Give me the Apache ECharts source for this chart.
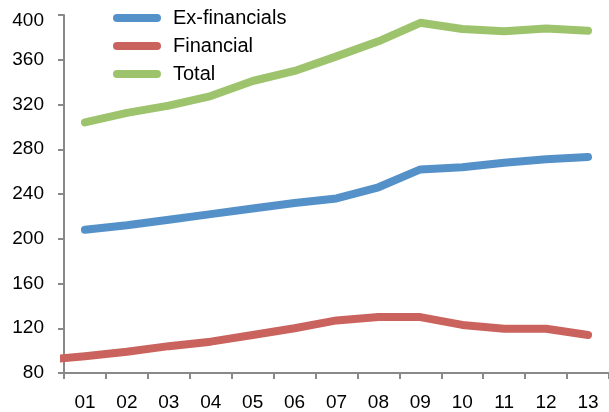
<!DOCTYPE html>
<html>
<head>
<meta charset="utf-8">
<script src="https://cdn.jsdelivr.net/npm/echarts@6/dist/echarts.min.js"></script>
<style>
  html, body { margin: 0; padding: 0; background: #fff; }
</style>
</head>
<body>
<div id="main" style="width: 609px;height:412px;"></div>
<script>
// years, shown as two digits
var categories = ["01", "02", "03", "04", "05", "06", "07", "08", "09", "10", "11", "12", "13"];
var exFinancials = [208, 212, 217, 222, 227, 232, 236, 246, 262, 264, 268, 271, 273];
var financial = [95, 99, 104, 108, 114, 120, 127, 130, 130, 123, 119.5, 119.5, 114];
// the Financial line comes in from a year before 01, cut at the axis
var financialBefore = 91.5;
var total = [304, 312.5, 319, 327.5, 341, 350, 363, 376.5, 393, 387.5, 385.5, 388, 386];
var yTicks = { min: 80, max: 400, step: 40 };

var grey = "#898989";
var font = "Liberation Sans, Arial, sans-serif";

function toPoints(values) {
  return values.map(function (v, i) { return [i + 1, v]; });
}

var boundaries = [];
for (var i = 0; i <= categories.length; i++) boundaries.push(i + 0.5);
var centers = categories.map(function (c, i) { return i + 1; });

var lineStyle = function (color) {
  return { width: 8, color: color, cap: "round", join: "round" };
};

var option = {
  animation: false,
  grid: { left: 64, right: -2, top: 15, bottom: 37 },
  legend: {
    orient: "vertical",
    left: 108,
    top: 3,
    itemWidth: 48,
    itemHeight: 8,
    itemGap: 8,
    icon: "path://M4,0 H44 A4,4 0 0 1 44,8 H4 A4,4 0 0 1 4,0 Z",
    textStyle: { fontFamily: font, fontSize: 20, color: "#000", lineHeight: 20, padding: [0, 0, 0, 7] },
    data: ["Ex-financials", "Financial", "Total"]
  },
  xAxis: {
    type: "value",
    min: 0.5,
    max: categories.length + 0.5,
    splitLine: { show: false },
    axisLine: { show: true, lineStyle: { color: grey, width: 2 } },
    axisTick: { show: true, length: 6, lineStyle: { color: grey, width: 2 }, customValues: boundaries },
    axisLabel: {
      customValues: centers,
      margin: 20,
      fontFamily: font,
      fontSize: 19,
      color: "#000",
      formatter: function (v) { return categories[Math.round(v) - 1]; }
    }
  },
  yAxis: {
    type: "value",
    min: yTicks.min,
    max: yTicks.max,
    interval: yTicks.step,
    splitLine: { show: false },
    axisLine: { show: true, lineStyle: { color: grey, width: 2 } },
    axisTick: { show: true, length: 6, lineStyle: { color: grey, width: 2 } },
    axisLabel: {
      margin: 20,
      fontFamily: font,
      fontSize: 19,
      color: "#000",
      formatter: function (v) {
        return v === yTicks.max ? "{t|" + v + "}" : "{n|" + v + "}";
      },
      rich: {
        t: { fontFamily: font, fontSize: 19, color: "#000", padding: [12, 0, 0, 0] },
        n: { fontFamily: font, fontSize: 19, color: "#000" }
      }
    }
  },
  series: [
    {
      name: "Ex-financials",
      type: "line",
      showSymbol: false,
      color: "#5591c9",
      lineStyle: lineStyle("#5591c9"),
      data: toPoints(exFinancials)
    },
    {
      name: "Financial",
      type: "line",
      showSymbol: false,
      clip: true,
      color: "#ca635d",
      lineStyle: lineStyle("#ca635d"),
      data: [[0, financialBefore]].concat(toPoints(financial))
    },
    {
      name: "Total",
      type: "line",
      showSymbol: false,
      color: "#9dc46c",
      lineStyle: lineStyle("#9dc46c"),
      data: toPoints(total)
    }
  ]
};

var myChart = echarts.init(document.getElementById("main"));
myChart.setOption(option);
</script>
</body>
</html>
